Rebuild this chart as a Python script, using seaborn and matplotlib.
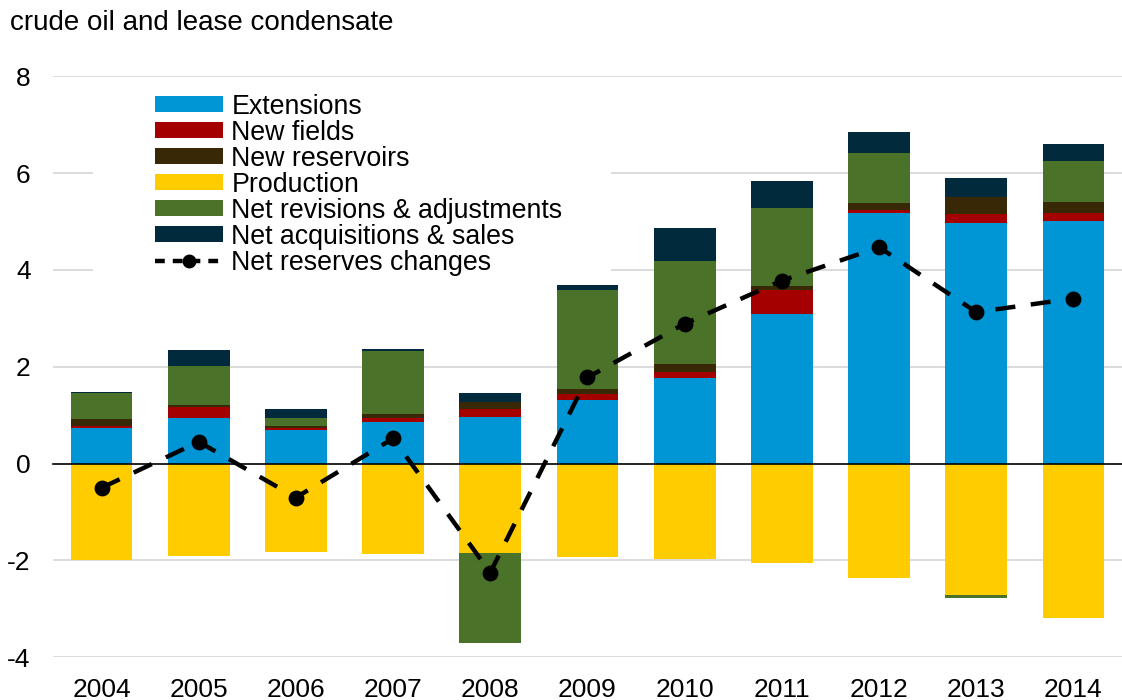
import matplotlib
matplotlib.use("Agg")
import matplotlib.pyplot as plt
from matplotlib.patches import Patch, Rectangle
from matplotlib.lines import Line2D
import numpy as np
import pandas as pd
import seaborn as sns

years = ["2004", "2005", "2006", "2007", "2008", "2009",
         "2010", "2011", "2012", "2013", "2014"]
extensions = [0.74, 0.95, 0.69, 0.87, 0.97, 1.31, 1.77, 3.10, 5.18, 4.96, 5.01]
new_fields = [0.035, 0.21, 0.04, 0.075, 0.165, 0.13, 0.13, 0.48, 0.055, 0.19, 0.165]
new_reservoirs = [0.145, 0.06, 0.04, 0.08, 0.145, 0.10, 0.165, 0.09, 0.14, 0.35, 0.22]
production = [-1.99, -1.90, -1.83, -1.86, -1.84, -1.92, -1.98, -2.06, -2.37, -2.72, -3.19]
revisions = [0.535, 0.80, 0.165, 1.31, -1.86, 2.05, 2.125, 1.62, 1.05, -0.05, 0.855]
acquisitions = [0.03, 0.32, 0.185, 0.035, 0.186, 0.10, 0.67, 0.54, 0.42, 0.39, 0.35]
net_changes = [-0.50, 0.45, -0.70, 0.52, -2.25, 1.78, 2.89, 3.78, 4.47, 3.13, 3.41]

labels = ["Extensions", "New fields", "New reservoirs", "Production",
          "Net revisions & adjustments", "Net acquisitions & sales",
          "Net reserves changes"]
colors = {"Extensions": "#0096d6", "New fields": "#a50000",
          "New reservoirs": "#382805", "Production": "#ffcc00",
          "Net revisions & adjustments": "#4a7229",
          "Net acquisitions & sales": "#022a3d"}

df = pd.DataFrame({"year": years, "ext": extensions, "nf": new_fields,
                   "nr": new_reservoirs, "prod": production,
                   "rev": revisions, "acq": acquisitions,
                   "net": net_changes})
rev_pos = df["rev"].clip(lower=0)
rev_neg = df["rev"].clip(upper=0)

# cumulative tops, drawn tallest first so shorter layers sit on top
df["c_ext"] = df["ext"]
df["c_nf"] = df["c_ext"] + df["nf"]
df["c_nr"] = df["c_nf"] + df["nr"]
df["c_rev"] = df["c_nr"] + rev_pos
df["c_acq"] = df["c_rev"] + df["acq"]
df["c_prod"] = df["prod"]
df["c_revneg"] = df["prod"] + rev_neg

sns.set_style("white")
plt.rcParams["font.family"] = ["Liberation Sans", "DejaVu Sans"]
plt.rcParams["text.color"] = "black"
plt.rcParams["xtick.color"] = "black"
plt.rcParams["ytick.color"] = "black"

fig = plt.figure(figsize=(11.22, 7), dpi=100)
ax = fig.add_axes([0.0472, 0.061, 0.9528, 0.830])

layers = [("c_acq", "Net acquisitions & sales"),
          ("c_rev", "Net revisions & adjustments"),
          ("c_nr", "New reservoirs"),
          ("c_nf", "New fields"),
          ("c_ext", "Extensions"),
          ("c_revneg", "Net revisions & adjustments"),
          ("c_prod", "Production")]
for col, name in layers:
    sns.barplot(data=df, x="year", y=col, color=colors[name],
                saturation=1, width=0.635, linewidth=0, ax=ax, zorder=2)

sns.pointplot(data=df, x="year", y="net", color="black", ax=ax,
              linestyle="--", marker="o", markersize=9, linewidth=3.2,
              dashes=(4.5, 3.5), zorder=4)

ax.set_xlim(-0.5, 10.5)
ax.set_ylim(-4, 8)
ax.set_yticks([-4, -2, 0, 2, 4, 6, 8])
ax.set_yticklabels(["-4", "-2", "0", "2", "4", "6", "8"])
ax.tick_params(axis="y", length=0, pad=16, labelsize=19, labelcolor="black")
ax.set_xlabel("")
ax.set_ylabel("")
for y in [-4, -2, 2, 4, 6, 8]:
    ax.axhline(y, color="#d9d9d9", linewidth=1.3, zorder=0)
for s in ["top", "right", "left"]:
    ax.spines[s].set_visible(False)

# white box behind the legend hides the gridlines there
ax.add_patch(Rectangle((93 / 1122, 1 - 284 / 700), (611 - 93) / 1122,
                       (284 - 84) / 700, transform=fig.transFigure,
                       facecolor="white", edgecolor="none", zorder=1))

# zero line with boundary ticks
ax.spines["bottom"].set_position(("data", 0))
ax.spines["bottom"].set_color("black")
ax.spines["bottom"].set_linewidth(1.2)
ax.spines["bottom"].set_zorder(3)
ax.set_xticks(np.arange(-0.5, 11, 1.0))
ax.set_xticklabels([])
ax.tick_params(axis="x", direction="out", length=7, width=1.0,
               color="#595959")

sec = ax.secondary_xaxis(0)
sec.set_xticks(range(len(years)))
sec.set_xticklabels(years)
sec.tick_params(length=0, pad=15, labelsize=19, labelcolor="black")
sec.spines["bottom"].set_visible(False)

handles = [Patch(facecolor=colors[n], edgecolor="none") for n in labels[:6]]
handles.append(Line2D([], [], color="black", linestyle="--", linewidth=3.2,
                      dashes=(2.2, 1.8), marker="o", markersize=9))
leg = ax.legend(handles, labels, loc="upper left",
                bbox_to_anchor=(155 / 1122, 1 - 93.5 / 700),
                bbox_transform=fig.transFigure, frameon=False, fontsize=19.3,
                handlelength=2.55, handleheight=0.55, handletextpad=0.3,
                labelspacing=0.0, borderpad=0, borderaxespad=0)
leg.set_zorder(5)

fig.text(10 / 1122, 0.985, "crude oil and lease condensate", fontsize=20,
         ha="left", va="top")

fig.savefig("out.png", dpi=100)
